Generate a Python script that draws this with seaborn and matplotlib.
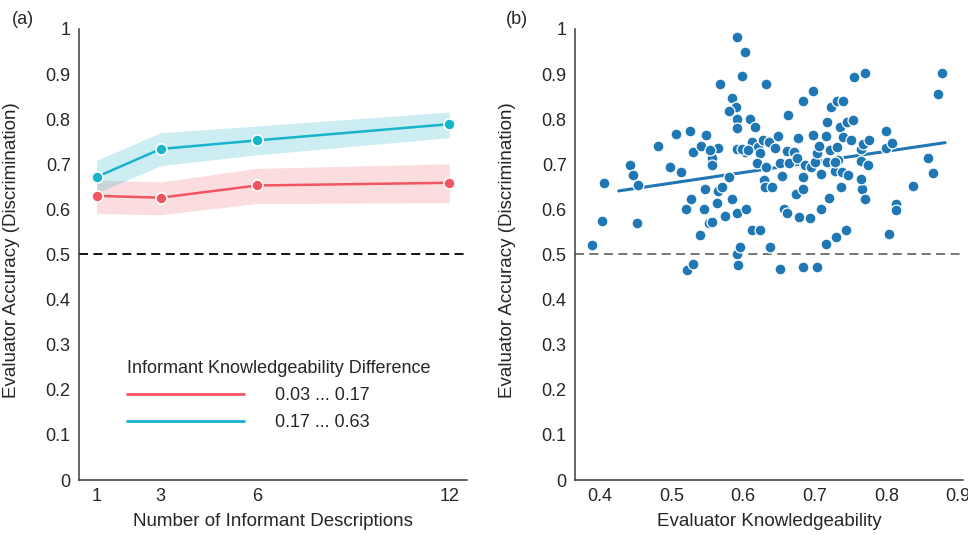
import numpy as np
import pandas as pd
import matplotlib.pyplot as plt
from matplotlib.lines import Line2D
import seaborn as sns

# (a) accuracy by number of informant descriptions
n_descriptions = [1, 3, 6, 12]
group_labels = ['0.03 ... 0.17', '0.17 ... 0.63']
acc_low = [0.630, 0.626, 0.653, 0.659]
acc_low_lower = [0.591, 0.588, 0.613, 0.615]
acc_low_upper = [0.665, 0.661, 0.691, 0.701]
acc_high = [0.672, 0.734, 0.753, 0.789]
acc_high_lower = [0.636, 0.697, 0.721, 0.759]
acc_high_upper = [0.709, 0.770, 0.785, 0.816]

# (b) evaluator knowledgeability vs accuracy
knowledge = [
    0.389, 0.403, 0.405, 0.442, 0.446, 0.453, 0.451, 0.481, 0.498, 0.506,
    0.513, 0.526, 0.527, 0.520, 0.530, 0.541, 0.548, 0.554, 0.557, 0.556,
    0.565, 0.546, 0.545, 0.540, 0.552, 0.557, 0.564, 0.565, 0.571, 0.574,
    0.580, 0.568, 0.584, 0.590, 0.580, 0.592, 0.592, 0.591, 0.603, 0.598,
    0.591, 0.602, 0.585, 0.592, 0.604, 0.592, 0.595, 0.593, 0.610, 0.617,
    0.612, 0.620, 0.624, 0.619, 0.612, 0.624, 0.632, 0.628, 0.636, 0.632,
    0.629, 0.630, 0.640, 0.637, 0.644, 0.648, 0.652, 0.654, 0.662, 0.657,
    0.661, 0.661, 0.664, 0.671, 0.677, 0.675, 0.674, 0.678, 0.684, 0.684,
    0.683, 0.684, 0.686, 0.695, 0.697, 0.698, 0.700, 0.694, 0.703, 0.706,
    0.709, 0.709, 0.703, 0.717, 0.716, 0.718, 0.720, 0.721, 0.716, 0.729,
    0.723, 0.731, 0.739, 0.731, 0.733, 0.728, 0.735, 0.740, 0.738, 0.736,
    0.746, 0.743, 0.745, 0.754, 0.750, 0.755, 0.770, 0.764, 0.766, 0.770,
    0.765, 0.768, 0.776, 0.775, 0.800, 0.800, 0.808, 0.803, 0.813, 0.814,
    0.837, 0.858, 0.865, 0.872, 0.878, 0.521, 0.530, 0.651, 0.765, 0.717,
    0.728, 0.554, 0.599, 0.606,
]
accuracy = [
    0.521, 0.574, 0.658, 0.699, 0.676, 0.654, 0.570, 0.740, 0.694, 0.768,
    0.684, 0.773, 0.622, 0.600, 0.728, 0.741, 0.765, 0.728, 0.714, 0.698,
    0.737, 0.646, 0.601, 0.543, 0.570, 0.573, 0.614, 0.641, 0.650, 0.585,
    0.672, 0.878, 0.848, 0.826, 0.818, 0.800, 0.780, 0.983, 0.949, 0.896,
    0.735, 0.728, 0.623, 0.593, 0.601, 0.500, 0.517, 0.476, 0.800, 0.783,
    0.750, 0.739, 0.724, 0.703, 0.555, 0.555, 0.878, 0.754, 0.750, 0.695,
    0.665, 0.650, 0.650, 0.517, 0.737, 0.763, 0.702, 0.674, 0.809, 0.601,
    0.591, 0.730, 0.702, 0.728, 0.759, 0.713, 0.635, 0.584, 0.841, 0.672,
    0.646, 0.473, 0.698, 0.695, 0.863, 0.765, 0.705, 0.580, 0.724, 0.741,
    0.678, 0.601, 0.473, 0.793, 0.763, 0.702, 0.626, 0.732, 0.524, 0.539,
    0.828, 0.841, 0.840, 0.739, 0.709, 0.686, 0.783, 0.761, 0.683, 0.650,
    0.676, 0.554, 0.794, 0.798, 0.754, 0.894, 0.902, 0.708, 0.646, 0.622,
    0.735, 0.745, 0.754, 0.698, 0.774, 0.737, 0.748, 0.545, 0.612, 0.598,
    0.652, 0.715, 0.680, 0.856, 0.903, 0.466, 0.480, 0.467, 0.667, 0.706,
    0.704, 0.732, 0.735, 0.731,
]
fit_x = [0.426, 0.882]
fit_y = [0.641, 0.748]

sns.set_theme(style='white')
plt.rcParams['font.family'] = ['Liberation Sans', 'DejaVu Sans']

red = '#F2555F'
cyan = '#17B4CC'
dot_blue = '#1F77B4'
text_col = '#262626'
spine_col = '#3a3a3a'

fig = plt.figure(figsize=(9.68, 5.35), dpi=100)
ax1 = fig.add_axes([0.0816, 0.1028, 0.4008, 0.843])
ax2 = fig.add_axes([0.594, 0.1028, 0.4008, 0.843])

# ---- panel (a)
df_lines = pd.DataFrame({
    'n': n_descriptions * 2,
    'acc': acc_low + acc_high,
    'group': [group_labels[0]] * 4 + [group_labels[1]] * 4,
})
palette = {group_labels[0]: red, group_labels[1]: cyan}
ax1.fill_between(n_descriptions, acc_low_lower, acc_low_upper, color=red, alpha=0.2, lw=0)
ax1.fill_between(n_descriptions, acc_high_lower, acc_high_upper, color=cyan, alpha=0.22, lw=0)
sns.lineplot(data=df_lines, x='n', y='acc', hue='group', palette=palette,
             marker='o', markersize=8, markeredgecolor='white', markeredgewidth=1.2,
             linewidth=1.8, legend=False, ax=ax1)
ax1.axhline(0.5, color='black', lw=1.3, ls=(0, (5, 3)))
ax1.set_xlim(0.45, 12.55)
ax1.set_xticks(n_descriptions)

handles = [Line2D([], [], color=red, lw=2), Line2D([], [], color=cyan, lw=2)]
leg = ax1.legend(handles, group_labels, title='Informant Knowledgeability Difference',
                 loc='upper left', bbox_to_anchor=(0.118, 0.270), frameon=False,
                 fontsize=13, title_fontsize=13, handlelength=6.5, handletextpad=1.7,
                 labelspacing=0.55, borderpad=0.1, borderaxespad=0, alignment='left')
for t in leg.get_texts():
    t.set_color(text_col)
leg.get_title().set_color(text_col)
ax1.set_xlabel('Number of Informant Descriptions')

# ---- panel (b)
sns.lineplot(x=fit_x, y=fit_y, color=dot_blue, lw=2.2, ax=ax2)
sns.scatterplot(x=knowledge, y=accuracy, s=62, color=dot_blue, edgecolor='white',
                linewidth=0.9, ax=ax2, zorder=3)
ax2.axhline(0.5, color='#6b6b6b', lw=1.3, ls=(0, (5, 3)))
ax2.set_xlim(0.365, 0.907)
ax2.set_xticks([0.4, 0.5, 0.6, 0.7, 0.8, 0.9])
ax2.set_xticklabels(['0.4', '0.5', '0.6', '0.7', '0.8', '0.9'])
ax2.set_xlabel('Evaluator Knowledgeability')

yt = np.arange(0, 11) / 10
for ax in (ax1, ax2):
    ax.set_ylim(0, 1)
    ax.set_yticks(yt)
    ax.set_yticklabels([f'{v:g}' for v in yt])
    ax.set_ylabel('Evaluator Accuracy (Discrimination)', fontsize=13.5, color=text_col)
    ax.xaxis.label.set_fontsize(13.5)
    ax.xaxis.label.set_color(text_col)
    ax.yaxis.set_label_coords(-0.152, 0.51)
    ax.xaxis.set_label_coords(0.5, -0.074)
    ax.tick_params(direction='in', length=4, width=1, color=spine_col,
                   labelsize=13, labelcolor=text_col, pad=6)
    for side in ('top', 'right'):
        ax.spines[side].set_visible(False)
    for side in ('left', 'bottom'):
        ax.spines[side].set_color(spine_col)
        ax.spines[side].set_linewidth(1.1)

fig.text(0.012, 0.963, '(a)', fontsize=13, color=text_col, va='center')
fig.text(0.523, 0.963, '(b)', fontsize=13, color=text_col, va='center')

fig.savefig('out.png', dpi=100)
